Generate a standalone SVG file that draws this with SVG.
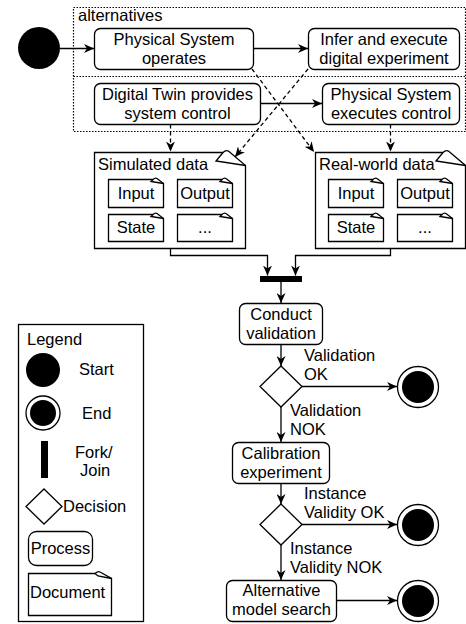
<svg xmlns="http://www.w3.org/2000/svg" width="466" height="624" viewBox="0 0 466 624">
<style>
text{font-family:"Liberation Sans",Arial,Helvetica,sans-serif;font-size:16.5px;fill:#000}
.c{text-anchor:middle}
.box{fill:#fff;stroke:#000;stroke-width:1.3}
.ln{fill:none;stroke:#000;stroke-width:1.3}
.dash{fill:none;stroke:#000;stroke-width:1.3;stroke-dasharray:4,3}
.frame{fill:none;stroke:#000;stroke-width:1.2;stroke-dasharray:1.5,1.5}
</style>
<defs>
<marker id="ah" markerWidth="11" markerHeight="9" refX="10" refY="4.5" orient="auto" markerUnits="userSpaceOnUse">
<path d="M0,0 L10,4.5 L0,9 L3,4.5 Z" fill="#000"/>
</marker>
</defs>

<g id="frame">
<rect class="frame" x="73.5" y="7.5" width="392" height="124"/>
<line class="frame" x1="73.5" y1="76.5" x2="466" y2="76.5"/>
<text x="78" y="21">alternatives</text>
</g>

<g id="start"><circle cx="39" cy="48" r="21" fill="#000"/></g>

<g id="ps-operates">
<rect class="box" x="94.5" y="28.5" width="159" height="41" rx="6"/>
<text class="c" x="174" y="44.5">Physical System</text>
<text class="c" x="174" y="63.5">operates</text>
</g>
<g id="infer">
<rect class="box" x="308.5" y="28.5" width="151" height="41" rx="6"/>
<text class="c" x="384" y="44.5">Infer and execute</text>
<text class="c" x="384" y="63.5">digital experiment</text>
</g>
<g id="dt-control">
<rect class="box" x="94.5" y="83.5" width="166" height="41" rx="6"/>
<text class="c" x="177.5" y="99.5">Digital Twin provides</text>
<text class="c" x="177.5" y="118.5">system control</text>
</g>
<g id="ps-executes">
<rect class="box" x="322.5" y="83.5" width="137" height="41" rx="6"/>
<text class="c" x="391" y="99.5">Physical System</text>
<text class="c" x="391" y="118.5">executes control</text>
</g>

<g id="sim-data">
<path class="box" d="M94.5,152.5 H223 Q226,149.5 229,151.5 L245.5,165.5 V248.5 H94.5 Z"/>
<path class="ln" d="M223,152.5 L216,161 L245.5,165.5"/>
<text x="98" y="170">Simulated data</text>
<g id="sim-input">
<path class="box" d="M108.5,179.5 H153 Q155,177.5 157,178.5 L163.5,183.5 V207.5 H108.5 Z"/>
<path class="ln" d="M153,179.5 L151,181.5 L163.5,183.5"/>
<text class="c" x="136" y="199">Input</text>
</g>
<g id="sim-output">
<path class="box" d="M177.5,179.5 H222 Q224,177.5 226,178.5 L232.5,183.5 V207.5 H177.5 Z"/>
<path class="ln" d="M222,179.5 L220,181.5 L232.5,183.5"/>
<text class="c" x="205" y="199">Output</text>
</g>
<g id="sim-state">
<path class="box" d="M108.5,214.5 H153 Q155,212.5 157,213.5 L163.5,218.5 V241.5 H108.5 Z"/>
<path class="ln" d="M153,214.5 L151,216.5 L163.5,218.5"/>
<text class="c" x="136" y="233">State</text>
</g>
<g id="sim-more">
<path class="box" d="M177.5,214.5 H222 Q224,212.5 226,213.5 L232.5,218.5 V241.5 H177.5 Z"/>
<path class="ln" d="M222,214.5 L220,216.5 L232.5,218.5"/>
<text class="c" x="205" y="233">...</text>
</g>
</g>

<g id="real-data">
<path class="box" d="M315.5,152.5 H443 Q446,149.5 449,151.5 L465.5,165.5 V248.5 H315.5 Z"/>
<path class="ln" d="M443,152.5 L436,161 L465.5,165.5"/>
<text x="319" y="170">Real-world data</text>
<g id="real-input">
<path class="box" d="M328.5,179.5 H373 Q375,177.5 377,178.5 L383.5,183.5 V207.5 H328.5 Z"/>
<path class="ln" d="M373,179.5 L371,181.5 L383.5,183.5"/>
<text class="c" x="356" y="199">Input</text>
</g>
<g id="real-output">
<path class="box" d="M397.5,179.5 H442 Q444,177.5 446,178.5 L452.5,183.5 V207.5 H397.5 Z"/>
<path class="ln" d="M442,179.5 L440,181.5 L452.5,183.5"/>
<text class="c" x="425" y="199">Output</text>
</g>
<g id="real-state">
<path class="box" d="M328.5,214.5 H373 Q375,212.5 377,213.5 L383.5,218.5 V241.5 H328.5 Z"/>
<path class="ln" d="M373,214.5 L371,216.5 L383.5,218.5"/>
<text class="c" x="356" y="233">State</text>
</g>
<g id="real-more">
<path class="box" d="M397.5,214.5 H442 Q444,212.5 446,213.5 L452.5,218.5 V241.5 H397.5 Z"/>
<path class="ln" d="M442,214.5 L440,216.5 L452.5,218.5"/>
<text class="c" x="425" y="233">...</text>
</g>
</g>

<g id="join"><rect x="260" y="276" width="42" height="6" fill="#000"/></g>

<g id="conduct">
<rect class="box" x="239.5" y="303.5" width="83" height="41" rx="6"/>
<text class="c" x="281" y="320">Conduct</text>
<text class="c" x="281" y="339">validation</text>
</g>
<g id="decision1"><path class="box" d="M281,366 L302,386.5 L281,407 L260,386.5 Z"/></g>
<g id="end1"><circle class="box" cx="418" cy="387" r="20.5"/><circle cx="418" cy="387" r="16" fill="#000"/></g>
<g id="calibration">
<rect class="box" x="232.5" y="442.5" width="97" height="41" rx="6"/>
<text class="c" x="281" y="459">Calibration</text>
<text class="c" x="281" y="478">experiment</text>
</g>
<g id="decision2"><path class="box" d="M281,504 L302,524.5 L281,545 L260,524.5 Z"/></g>
<g id="end2"><circle class="box" cx="418" cy="525" r="20.5"/><circle cx="418" cy="525" r="16" fill="#000"/></g>
<g id="alternative">
<rect class="box" x="226.5" y="580.5" width="110" height="41" rx="6"/>
<text class="c" x="281.5" y="596">Alternative</text>
<text class="c" x="281.5" y="615">model search</text>
</g>
<g id="end3"><circle class="box" cx="418" cy="601" r="20.5"/><circle cx="418" cy="601" r="16" fill="#000"/></g>

<g id="connectors">
<line class="ln" x1="60" y1="48.5" x2="94" y2="48.5" marker-end="url(#ah)"/>
<line class="ln" x1="253.5" y1="48.5" x2="308" y2="48.5" marker-end="url(#ah)"/>
<line class="ln" x1="260.5" y1="103.5" x2="322" y2="103.5" marker-end="url(#ah)"/>
<line class="dash" x1="252" y1="69" x2="314" y2="152" marker-end="url(#ah)"/>
<line class="dash" x1="308" y1="69" x2="235" y2="157" marker-end="url(#ah)"/>
<line class="dash" x1="170.5" y1="124.5" x2="170.5" y2="151.5" marker-end="url(#ah)"/>
<line class="dash" x1="390.5" y1="124.5" x2="390.5" y2="151.5" marker-end="url(#ah)"/>
<path class="ln" d="M170.5,248.5 V255.5 H267.5 V275.5" marker-end="url(#ah)"/>
<path class="ln" d="M390.5,248.5 V255.5 H295.5 V275.5" marker-end="url(#ah)"/>
<line class="ln" x1="281" y1="282" x2="281" y2="303" marker-end="url(#ah)"/>
<line class="ln" x1="281" y1="344.5" x2="281" y2="366" marker-end="url(#ah)"/>
<line class="ln" x1="302" y1="386.5" x2="397" y2="386.5" marker-end="url(#ah)"/>
<line class="ln" x1="281" y1="407" x2="281" y2="442" marker-end="url(#ah)"/>
<line class="ln" x1="281" y1="483.5" x2="281" y2="504" marker-end="url(#ah)"/>
<line class="ln" x1="302" y1="524.5" x2="397" y2="524.5" marker-end="url(#ah)"/>
<line class="ln" x1="281" y1="545" x2="281" y2="580" marker-end="url(#ah)"/>
<line class="ln" x1="336.5" y1="600.5" x2="397" y2="600.5" marker-end="url(#ah)"/>
<text x="304" y="361">Validation</text>
<text x="304" y="380">OK</text>
<text x="290" y="416">Validation</text>
<text x="290" y="435">NOK</text>
<text x="304" y="499">Instance</text>
<text x="304" y="518">Validity OK</text>
<text x="290" y="554">Instance</text>
<text x="290" y="573">Validity NOK</text>
</g>

<g id="legend">
<rect class="box" x="18.5" y="324.5" width="125" height="297"/>
<text x="27" y="345">Legend</text>
<circle cx="43" cy="370" r="17" fill="#000"/>
<text x="79" y="375">Start</text>
<circle class="box" cx="43" cy="413" r="17"/>
<circle cx="43" cy="413" r="13" fill="#000"/>
<text x="82" y="419">End</text>
<rect x="41" y="441" width="7" height="37" fill="#000"/>
<text x="75" y="458">Fork/</text>
<text x="80" y="476">Join</text>
<path class="box" d="M44,489 L62,506.5 L44,524 L26,506.5 Z"/>
<text x="63" y="512">Decision</text>
<rect class="box" x="28.5" y="531.5" width="64" height="34" rx="8"/>
<text class="c" x="60.5" y="554">Process</text>
<path class="box" d="M28.5,573.5 H95 Q98,571 100,572 L111.5,578.5 V615.5 H28.5 Z"/>
<path class="ln" d="M95,573.5 L98,576 L111.5,578.5"/>
<text x="30" y="598">Document</text>
</g>
</svg>
